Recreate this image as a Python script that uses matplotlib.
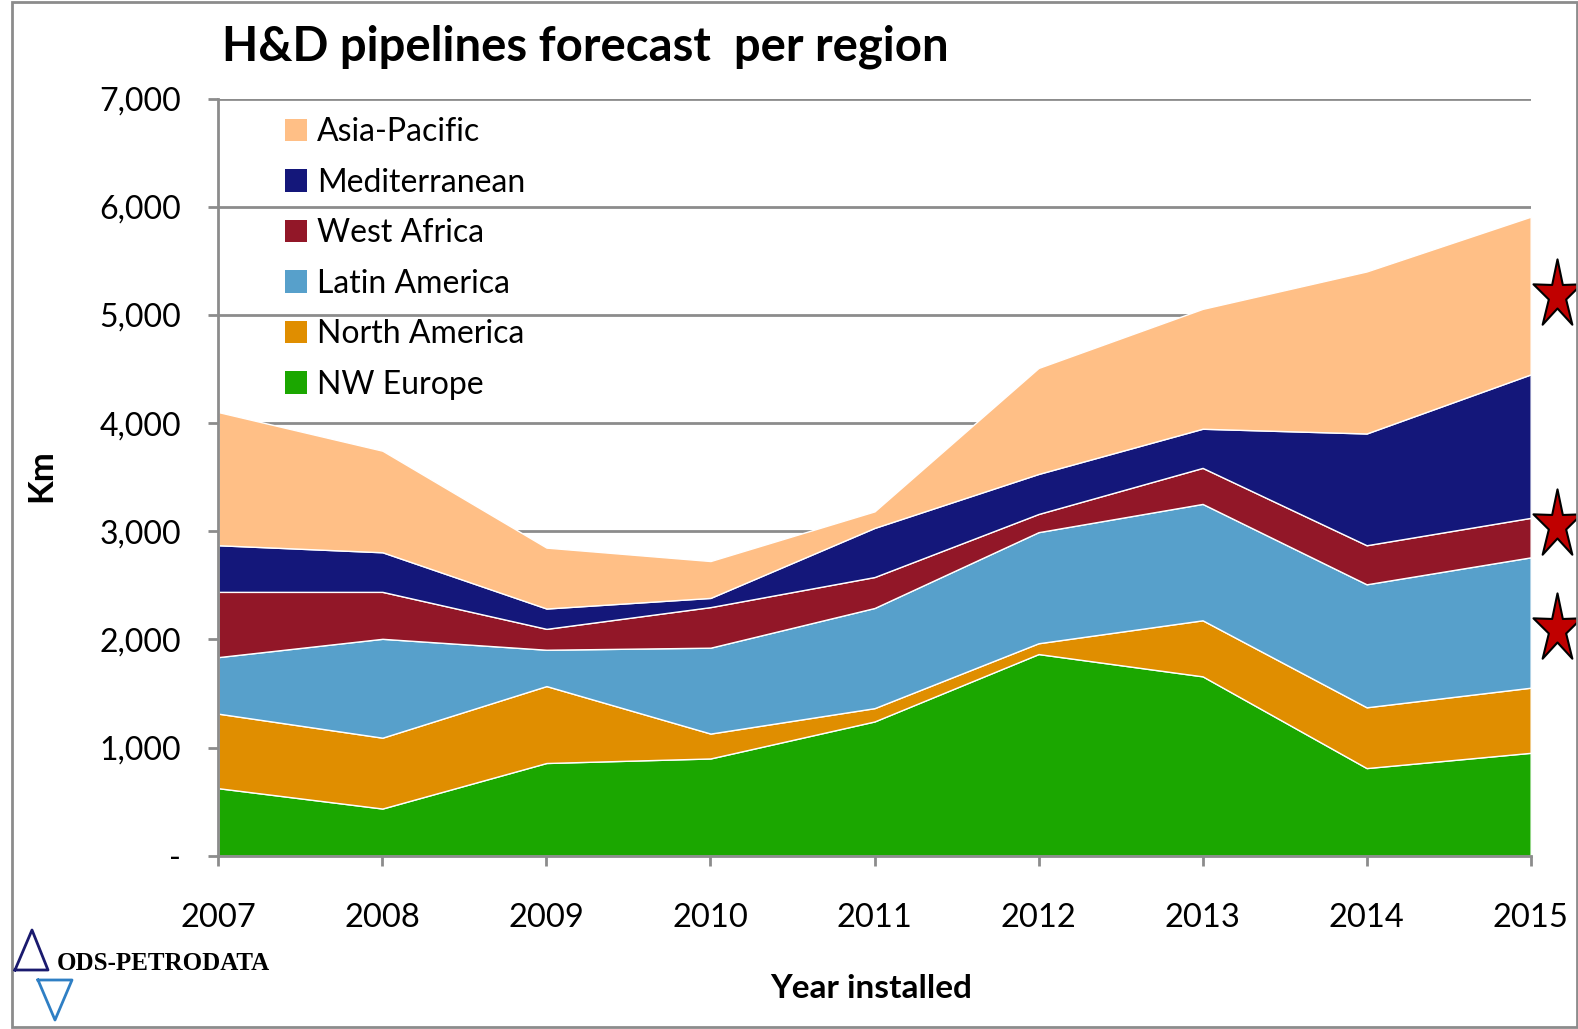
import numpy as np
import matplotlib
matplotlib.use('Agg')
import matplotlib.pyplot as plt
from matplotlib.path import Path
from matplotlib.patches import Patch, Rectangle
from matplotlib.lines import Line2D
from matplotlib.ticker import FuncFormatter

plt.rcParams['font.family'] = ['Lato', 'DejaVu Sans']

years = [2007, 2008, 2009, 2010, 2011, 2012, 2013, 2014, 2015]
nw_europe = [625, 437, 858, 900, 1242, 1865, 1659, 811, 952]
north_america = [689, 655, 711, 230, 123, 100, 518, 562, 602]
latin_america = [523, 914, 336, 794, 926, 1027, 1076, 1137, 1205]
west_africa = [603, 434, 193, 375, 286, 168, 333, 361, 365]
mediterranean = [431, 366, 188, 85, 454, 370, 362, 1033, 1326]
asia_pacific = [1231, 939, 563, 341, 153, 980, 1108, 1498, 1458]

regions = ['NW Europe', 'North America', 'Latin America', 'West Africa',
           'Mediterranean', 'Asia-Pacific']
colors = ['#1BA700', '#E08E00', '#57A0CB', '#921728', '#14177A', '#FFBF86']

# stars on the right hand side, km level of each
star_levels = [5180, 3056, 2096]

W, H = 1578, 1029
fig = plt.figure(figsize=(W / 100, H / 100), dpi=100)
ax = fig.add_axes([0.1384, 0.1683, 0.8316, 0.7359])

ax.stackplot(years, nw_europe, north_america, latin_america, west_africa,
             mediterranean, asia_pacific, colors=colors, labels=regions,
             edgecolor='white', linewidth=1.0, zorder=3)

ax.set_xlim(2007, 2015)
ax.set_ylim(0, 7000)
ax.set_xticks(years)
ax.set_yticks(range(0, 7001, 1000))
ax.yaxis.set_major_formatter(FuncFormatter(lambda v, p: '-' if v == 0 else f'{int(v):,}'))
ax.grid(axis='y', color='#8c8c8c', linewidth=2, zorder=0)
ax.set_axisbelow(True)

for s in ['top', 'right']:
    ax.spines[s].set_visible(False)
for s in ['left', 'bottom']:
    ax.spines[s].set_color('#8c8c8c')
    ax.spines[s].set_linewidth(2)
    ax.spines[s].set_zorder(5)

ax.tick_params(axis='both', colors='#8c8c8c', width=2, length=7, direction='out', labelcolor='black')
ax.tick_params(axis='y', labelsize=23, pad=20)
ax.tick_params(axis='x', labelsize=23.5, pad=27)

fig.text(0.1407, 0.955, 'H&D pipelines forecast  per region', fontsize=34,
         fontweight='bold', ha='left', va='center')
fig.text(0.026, 0.538, 'Km', fontsize=25, fontweight='bold', rotation=90,
         ha='center', va='center')
fig.text(0.552, 0.039, 'Year installed', fontsize=24, fontweight='bold',
         ha='center', va='center')

handles = [Patch(facecolor=c, edgecolor='none') for c in colors][::-1]
ax.legend(handles, regions[::-1], loc='upper left', bbox_to_anchor=(0.1805, 0.886),
          bbox_transform=fig.transFigure, frameon=False, fontsize=23,
          handlelength=0.7, handleheight=0.7, handletextpad=0.3,
          labelspacing=0.64, borderpad=0, borderaxespad=0)

# tall five pointed star
ang = np.pi / 2 + np.arange(10) * np.pi / 5
rad = np.where(np.arange(10) % 2 == 0, 1.0, 0.36)
verts = np.column_stack([rad * np.cos(ang) * 0.7, rad * np.sin(ang)])
verts = np.vstack([verts, verts[0]])
codes = [Path.MOVETO] + [Path.LINETO] * 9 + [Path.CLOSEPOLY]
star = Path(verts, codes)
ax.plot([1.02] * len(star_levels), star_levels, linestyle='none', marker=star,
        markersize=52, markerfacecolor='#C00000', markeredgecolor='black',
        markeredgewidth=1.5, transform=ax.get_yaxis_transform(), clip_on=False, zorder=6)

# logo
fig.text(57 / W, 1 - 964 / H, 'ODS-PETRODATA', fontsize=18, fontweight='bold',
         family='Liberation Serif', ha='left', va='center')
fig.add_artist(Line2D([15 / W, 32 / W, 48 / W, 15 / W],
                      [1 - 970 / H, 1 - 930 / H, 1 - 970 / H, 1 - 970 / H],
                      color='#1a1a6e', linewidth=2, transform=fig.transFigure))
fig.add_artist(Line2D([38 / W, 72 / W, 55 / W, 38 / W],
                      [1 - 980 / H, 1 - 980 / H, 1 - 1020 / H, 1 - 980 / H],
                      color='#2f7fc4', linewidth=2, transform=fig.transFigure))

# outer frame
fig.add_artist(Rectangle((12 / W, 0.002), 1 - 13 / W, 0.996, fill=False,
                         edgecolor='#8c8c8c', linewidth=2, transform=fig.transFigure))

fig.savefig('out.png', dpi=100)
